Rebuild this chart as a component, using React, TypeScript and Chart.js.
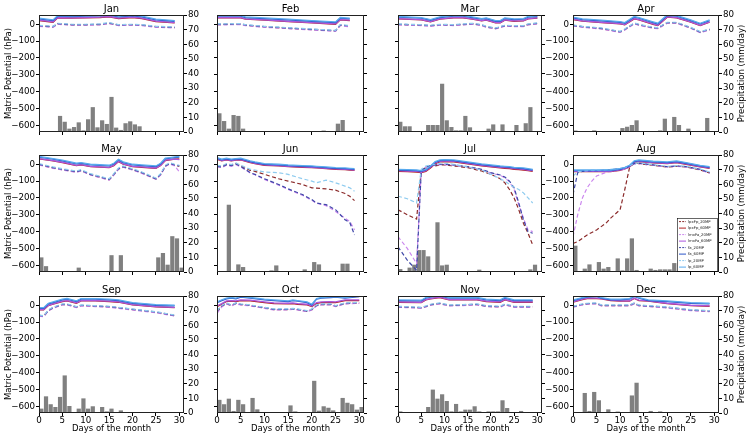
import React, { useEffect, useRef } from 'react';
import { Chart, registerables } from 'chart.js';
Chart.register(...registerables);

const MONTHS = ['Jan', 'Feb', 'Mar', 'Apr', 'May', 'Jun', 'Jul', 'Aug', 'Sep', 'Oct', 'Nov', 'Dec'];
const SERIES = ['lpxFp_20MP', 'lpxFp_60MP', 'lmxFa_20MP', 'lmxFa_60MP', 'fa_20MP', 'fa_60MP', 'lp_20MP', 'lp_60MP'];
const COLORS = ['#8b2a2a', '#b22222', '#cc88ee', '#aa55dd', '#3f48a8', '#2c55c8', '#8ecbef', '#58aaee'];
const DASHED = [true, false, true, false, true, false, true, false];
const Y_TICKS = [-600, -500, -400, -300, -200, -100, 0];
const Y2_TICKS = [0, 10, 20, 30, 40, 50, 60, 70, 80];
const X_TICKS = [0, 5, 10, 15, 20, 25, 30];

// line values per month: order lpxFp_20, lpxFp_60, lmxFa_20, lmxFa_60, fa_20, fa_60, lp_20, lp_60
const JAN_DAYS = [0, 3, 4, 7, 10, 13, 15, 17, 20, 22, 25, 29];
const JAN_LINES = [
  [-10, -16, 2, -4, -4, -2, 6, -6, -4, -6, -16, -20],
  [22, 12, 38, 36, 38, 40, 44, 34, 40, 34, 16, 8],
  [-12, -18, 0, -6, -6, -4, 4, -8, -6, -8, -18, -22],
  [24, 14, 40, 38, 40, 42, 46, 36, 42, 36, 18, 10],
  [-8, -14, 4, -2, -2, 0, 8, -4, -2, -4, -14, -18],
  [32, 22, 48, 46, 48, 50, 54, 44, 50, 44, 26, 18],
  [-6, -12, 6, 0, 0, 2, 10, -2, 0, -2, -12, -16],
  [36, 26, 52, 50, 52, 54, 58, 48, 54, 48, 30, 22],
];
const JAN_RAIN = [0, 0, 0, 0, 11, 7, 2.3, 3.4, 6.6, 1.1, 8.7, 17, 3.2, 8, 5.5, 24, 3, 1.4, 6, 7.3, 5.2, 3.9, 0, 0, 0.3, 0, 0, 0, 0, 0.7, 0];

const FEB_DAYS = [0, 5, 6, 10, 15, 20, 25, 26, 28];
const FEB_LINES = [
  [-2, 0, -6, -16, -24, -32, -40, -6, -12],
  [38, 38, 30, 24, 16, 8, 0, 26, 22],
  [-4, -2, -8, -18, -26, -34, -42, -8, -16],
  [40, 40, 32, 26, 18, 10, 2, 28, 24],
  [0, 2, -4, -14, -22, -30, -38, -4, -10],
  [48, 48, 40, 34, 26, 18, 10, 36, 32],
  [2, 4, -2, -12, -20, -28, -36, -2, -8],
  [52, 52, 44, 38, 30, 22, 14, 40, 36],
];
const FEB_RAIN = [12.8, 7.5, 2.3, 11.6, 11, 2.3, 0.7, 0, 0, 0, 0, 0, 0, 0, 0, 0.3, 0, 0, 0, 0, 0, 0, 1, 0, 0.5, 5.7, 8.2, 0, 0.5];

const MAR_DAYS = [0, 5, 7, 9, 12, 14, 16, 18, 19, 21, 22, 23, 25, 27, 28, 30];
const MAR_LINES = [
  [-2, -6, -10, -4, -6, -2, 2, -6, -16, -26, -18, -10, -12, -12, -2, 4],
  [32, 26, 14, 30, 38, 38, 30, 20, 24, 8, 8, 24, 18, 20, 32, 36],
  [-4, -8, -12, -6, -8, -4, 0, -8, -18, -28, -20, -12, -14, -14, -4, 2],
  [34, 28, 16, 32, 40, 40, 32, 22, 26, 10, 10, 26, 20, 22, 34, 38],
  [0, -4, -8, -2, -4, 0, 4, -4, -14, -24, -16, -8, -10, -10, 0, 6],
  [42, 36, 24, 40, 48, 48, 40, 30, 34, 18, 18, 34, 28, 30, 42, 46],
  [2, -2, -6, 0, -2, 2, 6, -2, -12, -22, -14, -6, -8, -8, 2, 8],
  [46, 40, 28, 44, 52, 52, 44, 34, 38, 22, 22, 38, 32, 34, 46, 50],
];
const MAR_RAIN = [7, 3.9, 3.9, 0.5, 0.5, 0, 4.8, 4.8, 4.8, 33, 8, 3.4, 1.1, 1.1, 11, 3.2, 0, 0, 0, 2.3, 5.2, 0, 5.2, 0, 0, 4.8, 0, 6, 17, 0, 0];

const APR_DAYS = [0, 2, 6, 10, 11, 13, 14, 17, 18, 20, 22, 25, 27, 29];
const APR_LINES = [
  [-8, -16, -26, -46, -32, 4, -4, -22, -24, 8, 8, -22, -48, -32],
  [28, 18, 10, 2, -4, 32, 26, 0, -8, 42, 38, 12, -8, 12],
  [-10, -18, -28, -48, -34, 2, -6, -24, -26, 6, 6, -24, -50, -34],
  [30, 20, 12, 4, -2, 34, 28, 2, -6, 44, 40, 14, -6, 14],
  [-6, -14, -24, -44, -30, 6, -2, -20, -22, 10, 10, -20, -46, -30],
  [38, 28, 20, 12, 6, 42, 36, 10, 2, 52, 48, 22, 2, 22],
  [-4, -12, -22, -42, -28, 8, 0, -18, -20, 12, 12, -18, -44, -28],
  [42, 32, 24, 16, 10, 46, 40, 14, 6, 56, 52, 26, 6, 26],
];
const APR_RAIN = [1, 0.7, 0, 0, 1.1, 0, 0.7, 0, 0, 0, 2.7, 3.6, 4.8, 8, 0.7, 0, 0, 0, 1.1, 9.1, 0.7, 10.3, 4.8, 0, 2.3, 0, 0.5, 0.7, 9.6, 0];

const MAY_DAYS = [0, 3, 5, 8, 9, 11, 15, 16, 17, 18, 20, 22, 25, 26, 27, 28, 29, 30];
const MAY_LINES = [
  [-2, -22, -32, -46, -38, -62, -92, -62, -28, -16, -32, -52, -88, -62, -12, 4, -6, -12],
  [32, 20, 10, -8, -4, -14, -20, -8, 16, 0, -14, -18, -24, -8, 22, 26, 30, 32],
  [-4, -24, -34, -48, -40, -64, -94, -64, -30, -18, -34, -54, -90, -64, -14, 2, -10, -44],
  [34, 22, 12, -6, -2, -12, -18, -6, 18, 2, -12, -16, -22, -6, 24, 28, 30, 28],
  [0, -20, -30, -44, -36, -60, -90, -60, -26, -14, -30, -50, -86, -60, -10, 6, -4, -10],
  [42, 30, 20, 2, 6, -4, -10, 2, 26, 10, -4, -8, -14, 2, 32, 36, 40, 42],
  [4, -16, -26, -40, -32, -56, -86, -56, -22, -10, -26, -46, -82, -56, -6, 10, 0, -6],
  [46, 34, 24, 6, 10, 0, -6, 6, 30, 14, 0, -4, -10, 6, 36, 40, 44, 46],
];
const MAY_RAIN = [10, 4, 0.5, 0, 0, 0.5, 0.3, 0, 3, 0.5, 0, 0, 0, 0, 0.3, 11.5, 0.5, 11.5, 0.3, 0, 0, 0, 0.3, 0, 0, 10, 13, 5, 24.5, 23, 3];

const JUN_DAYS = [0, 1, 2, 3, 4, 5, 7, 8, 10, 13, 15, 18, 20, 21, 23, 25, 27, 28, 29];
const JUN_LINES = [
  [-10, -14, 0, -6, 4, -10, -36, -42, -60, -86, -100, -120, -140, -142, -146, -154, -174, -190, -216],
  [30, 20, 26, 20, 24, 26, 10, 4, -6, -10, -14, -18, -20, -22, -26, -30, -32, -34, -36],
  [-16, -20, -6, -12, -2, -16, -52, -62, -90, -124, -150, -184, -214, -232, -246, -280, -320, -340, -390],
  [32, 22, 28, 22, 26, 28, 12, 6, -4, -8, -12, -16, -18, -20, -24, -28, -30, -32, -34],
  [-12, -16, -2, -8, 2, -12, -50, -60, -86, -120, -146, -180, -210, -230, -240, -270, -330, -346, -420],
  [36, 26, 32, 26, 30, 32, 16, 10, 0, -4, -8, -12, -14, -16, -20, -24, -26, -28, -30],
  [-6, -10, 4, -2, 8, -6, -30, -34, -46, -50, -60, -86, -100, -110, -94, -110, -130, -140, -160],
  [40, 30, 36, 30, 34, 36, 20, 14, 4, 0, -4, -8, -10, -12, -16, -20, -22, -24, -26],
];
const JUN_RAIN = [0.3, 0.3, 46, 0, 5.2, 3.4, 0, 0.3, 0.3, 0, 0, 1.1, 4.5, 0, 0, 0.5, 0, 0, 1.8, 0.7, 6.8, 5.2, 0.5, 0, 0, 0, 5.7, 5.7, 0.3, 0];

const JUL_DAYS = [0, 2, 4, 5, 6, 7, 8, 9, 10, 12, 15, 18, 20, 22, 23, 24, 25, 26, 27, 28, 29];
const JUL_LINES = [
  [-270, -300, -326, -40, -20, -16, -10, -4, -4, -10, -20, -40, -60, -86, -110, -150, -200, -270, -350, -410, -480],
  [-42, -44, -46, -50, -42, -22, 4, 14, 16, 14, 2, -10, -16, -22, -24, -26, -30, -32, -34, -38, -42],
  [-430, -500, -590, -44, -18, -10, -6, -2, -2, -6, -16, -32, -52, -66, -80, -104, -150, -240, -320, -390, -400],
  [-38, -40, -42, -46, -38, -18, 8, 18, 20, 18, 6, -6, -12, -18, -20, -22, -26, -28, -30, -34, -38],
  [-490, -570, -630, -40, -16, -8, -4, 0, 0, -4, -14, -30, -50, -64, -76, -100, -140, -230, -330, -400, -410],
  [-34, -36, -38, -42, -34, -14, 12, 22, 24, 22, 10, -2, -8, -14, -16, -18, -22, -24, -26, -30, -34],
  [-190, -205, -230, -30, -10, -4, 0, 6, 6, 0, -16, -34, -60, -86, -100, -120, -136, -150, -170, -200, -230],
  [-30, -32, -34, -38, -30, -10, 16, 26, 28, 26, 14, 2, -4, -10, -12, -14, -18, -20, -22, -26, -30],
];
const JUL_RAIN = [2, 0, 3, 5, 15, 15, 10.7, 0, 34, 4.5, 5, 0.5, 0, 0, 0.5, 0.5, 0, 1.6, 0.7, 0, 0, 0, 0, 0, 0, 0, 0, 0, 1.8, 5, 0.5];

const AUG_DAYS = [0, 1, 2, 3, 4, 5, 7, 8, 10, 11, 12, 13, 14, 17, 20, 22, 24, 27, 29];
const AUG_LINES = [
  [-470, -460, -440, -420, -405, -390, -350, -320, -270, -150, -20, 8, 4, -6, -16, -12, -16, -34, -52],
  [-44, -44, -44, -44, -44, -44, -44, -44, -36, -28, -16, 10, 16, 8, 4, 10, 0, -16, -24],
  [-430, -300, -200, -140, -100, -70, -48, -42, -34, -30, -14, 2, 4, -6, -16, -12, -16, -32, -54],
  [-42, -42, -42, -42, -42, -42, -42, -42, -34, -26, -14, 12, 18, 10, 6, 12, 2, -14, -22],
  [-180, -50, -42, -40, -38, -38, -34, -32, -26, -22, -12, 4, 6, -4, -14, -10, -14, -30, -50],
  [-38, -38, -38, -38, -38, -38, -38, -38, -30, -22, -10, 16, 22, 14, 10, 16, 6, -10, -18],
  [-70, -44, -40, -38, -36, -36, -32, -30, -24, -20, -10, 6, 8, -2, -12, -8, -12, -28, -46],
  [-34, -34, -34, -34, -34, -34, -34, -34, -26, -18, -6, 20, 26, 18, 14, 20, 10, -6, -14],
];
const AUG_RAIN = [18, 0.7, 2.3, 5.2, 0, 6.8, 2.3, 3.4, 0, 9.3, 1.1, 9.3, 23, 1.4, 0, 0, 2.3, 1.4, 1.8, 1.8, 1.8, 6.1, 1.6, 1.6, 0, 0, 0, 0.5, 0, 0.3, 0];

const SEP_DAYS = [0, 1, 2, 3, 5, 6, 8, 9, 12, 15, 17, 20, 25, 29];
const SEP_LINES = [
  [-62, -66, -32, -16, 4, 4, -12, -2, -6, -10, -16, -26, -42, -62],
  [-28, -28, -2, 6, 22, 26, 12, 26, 26, 22, 18, 2, -10, -14],
  [-64, -68, -34, -18, 2, 2, -14, -4, -8, -12, -18, -28, -44, -64],
  [-26, -26, 0, 8, 24, 28, 14, 28, 28, 24, 20, 4, -8, -12],
  [-60, -64, -30, -14, 6, 6, -10, 0, -4, -8, -14, -24, -40, -60],
  [-18, -18, 8, 16, 32, 36, 22, 36, 36, 32, 28, 12, 0, -4],
  [-58, -62, -28, -12, 8, 8, -8, 2, -2, -6, -12, -22, -38, -58],
  [-14, -14, 12, 20, 36, 40, 26, 40, 40, 36, 32, 16, 4, 0],
];
const SEP_RAIN = [3, 11.4, 6, 4.1, 11, 25.7, 4.8, 0, 3, 10, 3, 4.6, 0.7, 4.1, 1.1, 3, 0, 1.8, 0, 0, 0.3, 0, 0, 0, 0, 0, 0, 0.3, 0.3, 0.3];

const OCT_DAYS = [0, 1, 2, 3, 4, 5, 7, 10, 12, 15, 16, 17, 19, 20, 21, 22, 24, 25, 27, 30];
const OCT_LINES = [
  [-40, -6, 10, -2, 10, 4, -2, -16, -26, -26, -22, -26, -36, -26, -2, 4, 4, -6, 10, 14],
  [-8, 6, 22, 24, 22, 28, 26, 16, 10, 8, 10, 6, 2, -8, 12, 16, 18, 16, 28, 28],
  [-48, -10, 8, -4, 8, 2, -4, -18, -28, -28, -24, -28, -38, -28, -4, 2, 2, -8, 8, 12],
  [-4, 10, 26, 28, 26, 32, 30, 20, 14, 12, 14, 10, 6, -4, 16, 20, 22, 20, 32, 32],
  [-34, -4, 12, 0, 12, 6, 0, -14, -24, -24, -20, -24, -34, -24, 0, 6, 6, -4, 12, 16],
  [16, 28, 38, 42, 38, 48, 42, 32, 28, 22, 28, 24, 16, 2, 36, 42, 46, 48, 42, 52],
  [-32, -2, 14, 2, 14, 8, 2, -12, -22, -22, -18, -22, -32, -22, 2, 8, 8, -2, 14, 18],
  [20, 32, 42, 46, 42, 52, 46, 36, 32, 26, 32, 28, 20, 6, 40, 46, 50, 52, 46, 56],
];
const OCT_RAIN = [9, 6, 9.8, 1.4, 9, 6, 0, 10.3, 2.5, 0, 0.3, 0, 0, 0.5, 0, 5.2, 1.1, 0, 0.3, 0.3, 22, 1.6, 4.6, 3.6, 1.8, 0, 10.3, 7, 6, 2.3, 4.1];

const NOV_DAYS = [0, 5, 6, 7, 9, 11, 14, 17, 19, 22, 23, 25, 29];
const NOV_LINES = [
  [-10, -16, -8, 2, 10, -2, 0, 4, -6, -10, 4, -10, -10],
  [18, 16, 32, 38, 46, 32, 32, 32, 22, 18, 32, 18, 18],
  [-12, -18, -10, 0, 8, -4, -2, 2, -8, -12, 2, -12, -12],
  [20, 18, 34, 40, 48, 34, 34, 34, 24, 20, 34, 20, 20],
  [-8, -14, -6, 4, 12, 0, 2, 6, -4, -8, 6, -8, -8],
  [28, 26, 42, 48, 56, 42, 42, 42, 32, 28, 42, 28, 28],
  [-6, -12, -4, 6, 14, 2, 4, 8, -2, -6, 8, -6, -6],
  [32, 30, 46, 52, 60, 46, 46, 46, 36, 32, 46, 32, 32],
];
const NOV_RAIN = [1.1, 0, 0.3, 0, 0, 0.5, 4.1, 16, 9.8, 12.8, 8.2, 1.1, 6.2, 1.1, 2.3, 2.3, 4.6, 1.1, 0.5, 1.1, 1.1, 1.1, 8.7, 3.4, 0.5, 0.5, 1.4, 0, 0, 0];

const DEC_DAYS = [0, 2, 3, 5, 6, 8, 10, 12, 13, 14, 16, 20, 25, 29];
const DEC_LINES = [
  [-10, 4, 8, 10, -2, -2, -2, -2, 10, -2, -6, -14, -30, -36],
  [18, 34, 40, 40, 38, 28, 24, 24, 40, 28, 24, 10, -2, -6],
  [-12, 2, 6, 8, -4, -4, -4, -4, 8, -4, -8, -16, -32, -38],
  [20, 36, 42, 42, 40, 30, 26, 26, 42, 30, 26, 12, 0, -4],
  [-8, 6, 10, 12, 0, 0, 0, 0, 12, 0, -4, -12, -28, -34],
  [28, 42, 48, 52, 42, 32, 32, 36, 52, 42, 28, 22, 12, 8],
  [-6, 8, 12, 14, 2, 2, 2, 2, 14, 2, -2, -10, -26, -32],
  [32, 46, 52, 56, 46, 36, 36, 40, 56, 46, 32, 26, 16, 12],
];
const DEC_RAIN = [0, 0, 13.7, 1.4, 14.4, 8.7, 0, 2.5, 0.7, 1, 0, 0, 12, 20.7, 0, 0, 1.4, 0, 1.1, 0.3, 0, 0, 0.3, 0.3, 0, 0, 0, 0, 0, 0, 0];

const ALL_DAYS = [JAN_DAYS, FEB_DAYS, MAR_DAYS, APR_DAYS, MAY_DAYS, JUN_DAYS, JUL_DAYS, AUG_DAYS, SEP_DAYS, OCT_DAYS, NOV_DAYS, DEC_DAYS];
const ALL_LINES = [JAN_LINES, FEB_LINES, MAR_LINES, APR_LINES, MAY_LINES, JUN_LINES, JUL_LINES, AUG_LINES, SEP_LINES, OCT_LINES, NOV_LINES, DEC_LINES];
const ALL_RAIN = [JAN_RAIN, FEB_RAIN, MAR_RAIN, APR_RAIN, MAY_RAIN, JUN_RAIN, JUL_RAIN, AUG_RAIN, SEP_RAIN, OCT_RAIN, NOV_RAIN, DEC_RAIN];

// layout
const COL_LEFT = [39, 217, 398, 573];
const COL_RIGHT = [184, 364, 542, 719];
const ROW_TOP = [15, 155, 296];
const PLOT_H = 117;
const PADL = 38;
const PADR = 31;
const PADT = 15;
const PADB = 28;
const FONT = '"DejaVu Sans", sans-serif';
const TICK_SIZE = 8.7;

function Panel({ idx }: { idx: number }) {
  const ref = useRef<HTMLCanvasElement>(null);
  const col = idx % 4;
  const row = Math.floor(idx / 4);
  const left = COL_LEFT[col] - PADL;
  const top = ROW_TOP[row] - PADT;
  const w = COL_RIGHT[col] - COL_LEFT[col] + PADL + PADR;
  const h = PLOT_H + PADT + PADB;

  useEffect(() => {
    const days = ALL_DAYS[idx];
    const lines = ALL_LINES[idx];
    const rain = ALL_RAIN[idx];
    const showY = col === 0 || col === 3;
    const datasets: any[] = [
      {
        type: 'bar',
        label: 'Precipitation',
        data: rain.map((v, i) => ({ x: i + 0.5, y: v })),
        backgroundColor: '#808080',
        borderWidth: 0,
        yAxisID: 'y2',
        xAxisID: 'x',
        barPercentage: 0.9,
        categoryPercentage: 1,
        order: 50,
      },
    ];
    SERIES.forEach((name, s) => {
      datasets.push({
        type: 'line',
        label: name,
        data: days.map((d, k) => ({ x: d, y: lines[s][k] })),
        borderColor: COLORS[s],
        borderWidth: DASHED[s] ? 1.2 : 1.3,
        borderDash: DASHED[s] ? [4, 2.5] : [],
        pointRadius: 0,
        fill: false,
        tension: 0,
        yAxisID: 'y',
        xAxisID: 'x',
        order: 8 - s,
      });
    });

    const decor = {
      id: 'decor',
      afterDraw(chart: any) {
        const { ctx, chartArea: a } = chart;
        ctx.save();
        ctx.strokeStyle = '#222';
        ctx.lineWidth = 1;
        ctx.strokeRect(a.left + 0.5, a.top + 0.5, a.right - a.left - 1, a.bottom - a.top - 1);
        ctx.fillStyle = '#000';
        ctx.font = `10px ${FONT}`;
        ctx.textAlign = 'center';
        ctx.textBaseline = 'alphabetic';
        ctx.fillText(MONTHS[idx], (a.left + a.right) / 2, a.top - 3);
        ctx.font = `8.5px ${FONT}`;
        const cy = (a.top + a.bottom) / 2;
        if (col === 0) {
          ctx.save();
          ctx.translate(a.left - 30.5, cy);
          ctx.rotate(-Math.PI / 2);
          ctx.textBaseline = 'middle';
          ctx.fillText('Matric Potential (hPa)', 0, 0);
          ctx.restore();
        }
        if (col === 3) {
          ctx.save();
          ctx.translate(a.right + 23, cy);
          ctx.rotate(-Math.PI / 2);
          ctx.textBaseline = 'middle';
          ctx.fillText('Precipitation (mm/day)', 0, 0);
          ctx.restore();
        }
        if (row === 2) {
          ctx.textBaseline = 'alphabetic';
          ctx.fillText('Days of the month', (a.left + a.right) / 2, a.bottom + 18);
        }
        if (idx === 7) {
          const bw = 40;
          const bh = 53;
          const bx = a.right - 42;
          const by = a.bottom - 54;
          ctx.fillStyle = '#fff';
          ctx.fillRect(bx, by, bw, bh);
          ctx.strokeStyle = '#000';
          ctx.lineWidth = 0.6;
          ctx.strokeRect(bx + 0.5, by + 0.5, bw, bh);
          ctx.font = `3.8px ${FONT}`;
          ctx.textAlign = 'left';
          ctx.textBaseline = 'middle';
          SERIES.forEach((name, s) => {
            const yy = by + 3.6 + s * 6.5;
            ctx.strokeStyle = COLORS[s];
            ctx.lineWidth = 1;
            ctx.setLineDash(DASHED[s] ? [2, 1.2] : []);
            ctx.beginPath();
            ctx.moveTo(bx + 2, yy);
            ctx.lineTo(bx + 9, yy);
            ctx.stroke();
            ctx.setLineDash([]);
            ctx.fillStyle = '#222';
            ctx.fillText(name, bx + 11, yy);
          });
        }
        ctx.restore();
      },
    };

    const tickFont = { family: FONT, size: TICK_SIZE };
    const chart = new Chart(ref.current as HTMLCanvasElement, {
      type: 'line',
      data: { datasets },
      plugins: [decor],
      options: {
        animation: false,
        responsive: false,
        maintainAspectRatio: false,
        devicePixelRatio: 1,
        layout: { padding: { top: PADT, left: 0, right: 0, bottom: 0 } },
        plugins: { legend: { display: false }, title: { display: false }, tooltip: { enabled: false } },
        events: [],
        scales: {
          x: {
            type: 'linear',
            min: 0,
            max: 31,
            offset: false,
            afterFit: (s: any) => { s.height = PADB; },
            afterBuildTicks: (s: any) => { s.ticks = X_TICKS.map((v) => ({ value: v })); },
            ticks: { display: row === 2, stepSize: 5, includeBounds: false, maxRotation: 0, minRotation: 0, autoSkip: false, padding: 0, color: '#000', font: tickFont },
            grid: { display: true, drawOnChartArea: false, drawTicks: true, tickLength: 3, color: '#000', offset: false },
            border: { display: false },
          },
          y: {
            type: 'linear',
            position: 'left',
            min: -640,
            max: 55,
            afterFit: (s: any) => { s.width = PADL; },
            afterBuildTicks: (s: any) => { s.ticks = Y_TICKS.map((v) => ({ value: v })); },
            ticks: {
              display: showY,
              stepSize: 100,
              includeBounds: false,
              padding: 1,
              color: '#000',
              font: tickFont,
              callback: (v: any) => String(v).replace('-', '\u2212'),
            },
            grid: { display: true, drawOnChartArea: false, drawTicks: true, tickLength: 3, color: '#000' },
            border: { display: false },
          },
          y2: {
            type: 'linear',
            position: 'right',
            min: 0,
            max: 80,
            afterFit: (s: any) => { s.width = PADR; },
            afterBuildTicks: (s: any) => { s.ticks = Y2_TICKS.map((v) => ({ value: v })); },
            ticks: { display: showY, stepSize: 10, padding: 1, color: '#000', font: tickFont },
            grid: { display: true, drawOnChartArea: false, drawTicks: true, tickLength: 3, color: '#000' },
            border: { display: false },
          },
        },
      } as any,
    });
    return () => chart.destroy();
  }, [idx]);

  return (
    <canvas
      ref={ref}
      width={w}
      height={h}
      style={{ position: 'absolute', left, top, width: w, height: h }}
    />
  );
}

export default function App() {
  return (
    <div style={{ position: 'absolute', left: 0, top: 0, width: 750, height: 442, overflow: 'hidden', background: '#fff' }}>
      {MONTHS.map((m, i) => (
        <Panel key={m} idx={i} />
      ))}
    </div>
  );
}
